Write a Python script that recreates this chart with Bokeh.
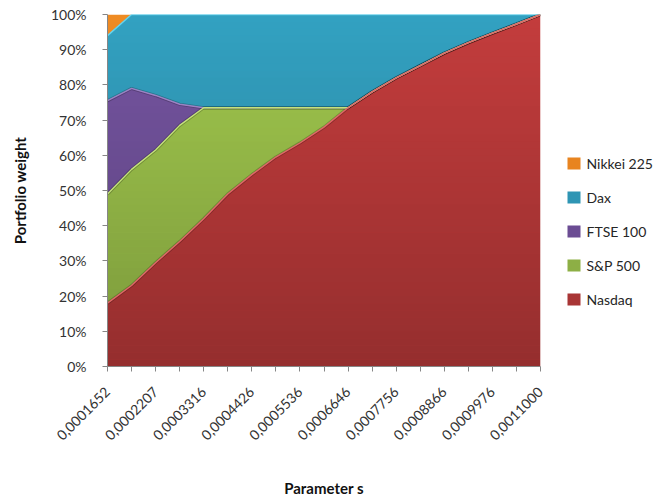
from math import pi

import numpy as np
from bokeh.core.properties import value
from bokeh.embed import file_html
from bokeh.layouts import row
from bokeh.models import (ColumnDataSource, FixedTicker, PrintfTickFormatter,
                          Range1d)
from bokeh.plotting import figure
from bokeh.resources import INLINE

FONT = "Lato"

# Parameter s grid: 19 points, every second one carries a tick label
n_points = 19
s_tick_labels = ["0,0001652", "0,0002207", "0,0003316", "0,0004426", "0,0005536",
                 "0,0006646", "0,0007756", "0,0008866", "0,0009976", "0,0011000"]

# Portfolio weights in percent at each grid point
nasdaq = [18, 23, 29.5, 35.5, 42, 49, 54.5, 59.5, 63.5, 68, 73.5,
          78, 82, 85.5, 89, 92, 94.7, 97.3, 100]
sp500 = [31, 33, 32, 33, 31.5, 24.5, 19, 14, 10, 5.5, 0,
         0, 0, 0, 0, 0, 0, 0, 0]
ftse100 = [26.5, 23, 15.5, 6, 0, 0, 0, 0, 0, 0, 0,
           0, 0, 0, 0, 0, 0, 0, 0]
dax = [18.5, 21, 23, 25.5, 26.5, 26.5, 26.5, 26.5, 26.5, 26.5, 26.5,
       22, 18, 14.5, 11, 8, 5.3, 2.7, 0]
nikkei225 = [6, 0, 0, 0, 0, 0, 0, 0, 0, 0, 0,
             0, 0, 0, 0, 0, 0, 0, 0]

series_names = ["Nasdaq", "S&P 500", "FTSE 100", "Dax", "Nikkei 225"]
keys = ["nasdaq", "sp500", "ftse100", "dax", "nikkei225"]
base_colors = ["#C43D3D", "#A2C94E", "#7655A2", "#33A2C2", "#F08C24"]
legend_colors = ["#A83535", "#8DAF45", "#6B4C93", "#2E95B4", "#E88420"]
edge_colors = ["#E06666", "#C4E27A", "#9C82C4", "#62D4F0", "#F8B060"]

x = np.arange(n_points)
src = ColumnDataSource(dict(x=x, nasdaq=nasdaq, sp500=sp500, ftse100=ftse100,
                            dax=dax, nikkei225=nikkei225))

PLOT_W = 550
TOP, BOTTOM = 14, 366          # frame edges in page pixels
p = figure(width=PLOT_W, height=500,
           min_border_left=107, min_border_right=PLOT_W - 540,
           min_border_top=TOP, min_border_bottom=500 - BOTTOM,
           x_range=Range1d(0, n_points - 1), y_range=Range1d(0, 100),
           output_backend="svg", toolbar_location=None,
           outline_line_color=None)
p.grid.visible = False

p.varea_stack(stackers=keys, x="x", color=base_colors, source=src)

# vertical shading, darker towards the bottom of the plot
n_bands = 50
band_edges = np.linspace(0, 100, n_bands + 1)
band_mid = (band_edges[:-1] + band_edges[1:]) / 2
p.quad(left=0, right=n_points - 1, bottom=band_edges[:-1], top=band_edges[1:],
       fill_color="black", fill_alpha=list(0.24 * (1 - band_mid / 100)),
       line_color=None)

# bevel-like edges along the top of each stacked band
stack = np.array([nasdaq, sp500, ftse100, dax])
tops = np.cumsum(stack, axis=0)
for k in range(3):
    p.line(x, tops[k], line_color="black", line_alpha=0.22, line_width=3.2)
for k in (3, 2, 1, 0):
    p.line(x, tops[k], line_color=edge_colors[k], line_width=1.4)

axis_grey = "#868686"
for ax in (p.xaxis[0], p.yaxis[0]):
    ax.axis_line_color = axis_grey
    ax.major_tick_line_color = axis_grey
    ax.minor_tick_line_color = None
    ax.major_tick_in = 0
    ax.major_tick_out = 5
    ax.major_label_text_font = FONT
    ax.major_label_text_font_size = "14px"
    ax.major_label_text_color = "#333333"
    ax.axis_label_text_font = FONT
    ax.axis_label_text_font_size = "15px"
    ax.axis_label_text_font_style = "bold"
    ax.axis_label_text_color = "#111111"

xa = p.xaxis[0]
xa.ticker = FixedTicker(ticks=list(range(n_points)))
xa.major_label_overrides = {i: (s_tick_labels[i // 2] if i % 2 == 0 else "")
                            for i in range(n_points)}
xa.major_label_orientation = pi / 4
xa.major_label_standoff = 18
xa.axis_label = "Parameter s"
xa.axis_label_standoff = 31

ya = p.yaxis[0]
ya.ticker = FixedTicker(ticks=list(range(0, 101, 10)))
ya.formatter = PrintfTickFormatter(format="%d%%")
ya.major_label_standoff = 16
ya.axis_label = "Portfolio weight"
ya.axis_label_standoff = 19

# legend column; its frame spans the same rows as the plot frame and its
# y range is expressed in page pixels measured from the top
LEG_W = 665 - PLOT_W
lg = figure(width=LEG_W, height=500,
            min_border_left=0, min_border_right=0,
            min_border_top=TOP, min_border_bottom=500 - BOTTOM,
            x_range=Range1d(0, LEG_W), y_range=Range1d(BOTTOM, TOP),
            x_axis_type=None, y_axis_type=None,
            output_backend="svg", toolbar_location=None,
            outline_line_color=None)
lg.grid.visible = False

first_row, row_step = 163, 34
swatch_x, swatch_w, swatch_h = 567 - PLOT_W, 13, 12
leg_labels = series_names[::-1]
leg_fill = legend_colors[::-1]
row_y = [first_row + row_step * k for k in range(len(leg_labels))]
lg.quad(left=swatch_x, right=swatch_x + swatch_w,
        top=[yc - swatch_h / 2 for yc in row_y],
        bottom=[yc + swatch_h / 2 for yc in row_y],
        fill_color=leg_fill, line_color=None)
lg.text(x=swatch_x + swatch_w + 6, y=row_y, text=leg_labels,
        text_font=value(FONT), text_font_size="14px",
        text_color="#262626", text_baseline="middle")

layout = row(p, lg, spacing=0)
open("out.html", "w").write(file_html(layout, INLINE))
